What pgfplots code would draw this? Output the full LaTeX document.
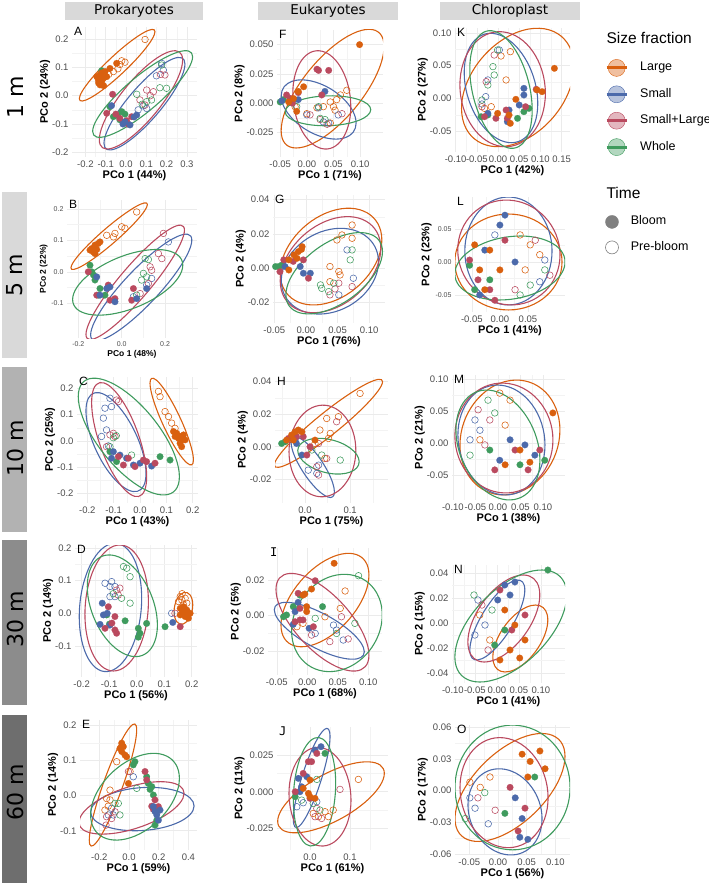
\documentclass[border=0pt]{standalone}
\usepackage{fontspec}
\setmainfont{Liberation Sans}
\newfontfamily\djv{DejaVu Sans}
\newfontfamily\djvmono{DejaVu Sans Mono}
\usepackage{pgfplots}
\pgfplotsset{compat=1.18}
\usetikzlibrary{calc}

\definecolor{cL}{HTML}{D9600F}
\definecolor{cS}{HTML}{4C6AAB}
\definecolor{cSL}{HTML}{BA4A5F}
\definecolor{cW}{HTML}{3F9B5E}
\definecolor{gridc}{HTML}{EBEBEB}
\definecolor{tickc}{HTML}{4D4D4D}
\definecolor{stripc}{HTML}{D9D9D9}

\newcommand{\tickfont}{\fontsize{9.5}{11}\selectfont}
\newcommand{\labfont}{\fontsize{11}{13}\selectfont\bfseries}

% normal-data ellipse: colour, centre x, centre y, half width, half height,
% rise of the rightmost point above the centre (all in data units)
\newcommand{\ellip}[6]{%
  \draw[#1, line width=1.1pt] let \p1=(axis cs:#2,#3), \p2=(axis direction cs:#4,#6),
    \n1={sqrt((100*#5)^2-(100*#6)^2)/100}, \p3=(axis direction cs:0,\n1) in
    (canvas cs:x=\x1+\x2, y=\y1+\y2)
    .. controls (canvas cs:x=\x1+\x2+0.5523*\x3, y=\y1+\y2+0.5523*\y3)
       and (canvas cs:x=\x1+\x3+0.5523*\x2, y=\y1+\y3+0.5523*\y2) .. (canvas cs:x=\x1+\x3, y=\y1+\y3)
    .. controls (canvas cs:x=\x1+\x3-0.5523*\x2, y=\y1+\y3-0.5523*\y2)
       and (canvas cs:x=\x1-\x2+0.5523*\x3, y=\y1-\y2+0.5523*\y3) .. (canvas cs:x=\x1-\x2, y=\y1-\y2)
    .. controls (canvas cs:x=\x1-\x2-0.5523*\x3, y=\y1-\y2-0.5523*\y3)
       and (canvas cs:x=\x1-\x3-0.5523*\x2, y=\y1-\y3-0.5523*\y2) .. (canvas cs:x=\x1-\x3, y=\y1-\y3)
    .. controls (canvas cs:x=\x1-\x3+0.5523*\x2, y=\y1-\y3+0.5523*\y2)
       and (canvas cs:x=\x1+\x2-0.5523*\x3, y=\y1+\y2-0.5523*\y3) .. cycle;}

\pgfplotsset{
  pan/.style={anchor=north west, scale only axis, axis line style={draw=none},
    scaled ticks=false, major tick length=0pt, minor tick length=0pt,
    grid=both, minor tick num=1,
    major grid style={draw=gridc, line width=0.55pt},
    minor grid style={draw=gridc!60!white, line width=0.3pt},
    ticklabel style={font=\tickfont, text=tickc}, label style={font=\labfont},
    xlabel shift=-4pt, ylabel shift=-5pt},
  tag/.style={after end axis/.append code={\node[anchor=north west, inner sep=0pt,
    font=\fontsize{12}{13}\selectfont] at ([xshift=2pt]rel axis cs:0,1) {#1};}},
  fb/.style={only marks, mark=*, mark size=3.3pt, mark options={draw=#1, fill=#1, line width=0.2pt}},
  ob/.style={only marks, mark=o, mark size=3.3pt, mark options={draw=#1, line width=0.55pt}},
}

\begin{document}
\begin{tikzpicture}

% ---------------- column strips and depth labels
\fill[stripc] (65pt,-2pt) rectangle (203pt,-20pt);
\node[font=\djv\fontsize{13.5}{15}\selectfont] at (134pt,-11pt) {Prokaryotes};
\fill[stripc] (258pt,-2pt) rectangle (398pt,-20pt);
\node[font=\djv\fontsize{13.5}{15}\selectfont] at (328pt,-11pt) {Eukaryotes};
\fill[stripc] (440pt,-2pt) rectangle (580pt,-20pt);
\node[font=\djv\fontsize{13.5}{15}\selectfont] at (510pt,-11pt) {Chloroplast};

\fill[black!15] (2pt,-192pt) rectangle (27pt,-358pt);
\fill[black!30] (2pt,-367pt) rectangle (27pt,-532pt);
\fill[black!45] (2pt,-540pt) rectangle (27pt,-705pt);
\fill[black!57] (2pt,-715pt) rectangle (27pt,-883pt);
\foreach \lab/\yy in {1 m/97, 5 m/275, 10 m/448, 30 m/619, 60 m/792}
  \node[rotate=90, font=\djv\fontsize{22}{24}\selectfont] at (15pt,-\yy pt) {\lab};

% ================= A
\begin{axis}[pan, tag=A, at={(72pt,-27pt)}, width=125pt, height=130pt,
  xmin=-0.266, xmax=0.350, ymin=-0.216, ymax=0.242,
  xtick={-0.2,-0.1,0,0.1,0.2,0.3}, xticklabels={-0.2,-0.1,0.0,0.1,0.2,0.3},
  ytick={-0.2,-0.1,0,0.1,0.2}, yticklabels={-0.2,-0.1,0.0,0.1,0.2},
  xlabel={PCo 1 (44\%)}, ylabel={PCo 2 (24\%)}]
\addplot[ob=cL] coordinates {(0.094,0.198) (-0.021,0.123) (-0.005,0.118) (-0.062,0.085) (-0.085,0.075) (-0.04,0.095) (-0.03,0.11)};
\addplot[ob=cS] coordinates {(0.184,0.09) (0.176,0.114) (0.085,-0.036) (0.102,-0.045) (0.15,0.07) (0.06,-0.05)};
\addplot[ob=cSL] coordinates {(0.192,0.073) (0.102,0.02) (0.135,0.014) (0.069,-0.015) (0.094,-0.033) (0.17,0.075) (0.12,0.0)};
\addplot[ob=cW] coordinates {(0.053,0.005) (0.102,-0.021) (0.167,0.028) (0.2,0.026) (0.126,-0.015) (0.176,0.108) (0.08,-0.03)};
\addplot[fb=cW] coordinates {(-0.12,0.088) (-0.079,-0.039) (-0.062,-0.074) (-0.021,-0.056) (-0.005,-0.065) (-0.04,-0.07) (-0.03,-0.085)};
\addplot[fb=cSL] coordinates {(-0.066,0.005) (-0.095,-0.062) (-0.013,-0.097) (0.003,-0.088) (0.028,-0.074) (-0.03,-0.08) (-0.05,-0.065) (0.01,-0.1)};
\addplot[fb=cS] coordinates {(-0.071,-0.035) (0.053,-0.068) (0.02,-0.103) (-0.005,-0.092) (0.04,-0.075) (-0.015,-0.1)};
\addplot[fb=cL] coordinates {(-0.128,0.073) (-0.112,0.061) (-0.136,0.055) (-0.12,0.049) (-0.103,0.085) (-0.095,0.067) (-0.128,0.038) (-0.144,0.067) (-0.079,0.096) (-0.046,0.114) (-0.12,0.08) (-0.135,0.045) (-0.11,0.035)};
\ellip{cL}{-0.0435}{0.1074}{0.1864}{0.1262}{0.118}
\ellip{cS}{0.0911}{-0.0282}{0.1995}{0.1631}{0.1397}
\ellip{cSL}{0.0739}{-0.0147}{0.2053}{0.1731}{0.1403}
\ellip{cW}{0.0821}{0.0059}{0.2463}{0.1526}{0.1315}
\end{axis}

% ================= B
\begin{axis}[pan, tag=B, at={(67pt,-200pt)}, width=130pt, height=138pt,
  ticklabel style={font=\fontsize{7}{8}\selectfont}, label style={font=\fontsize{8.5}{10}\selectfont\bfseries},
  xlabel shift=-3pt, ylabel shift=-3pt,
  xmin=-0.252, xmax=0.347, ymin=-0.210, ymax=0.228,
  xtick={-0.2,0,0.2}, xticklabels={-0.2,0.0,0.2},
  ytick={-0.1,0,0.1,0.2}, yticklabels={-0.1,0.0,0.1,0.2},
  xlabel={PCo 1 (48\%)}, ylabel={PCo 2 (22\%)}]
\addplot[ob=cL] coordinates {(-0.069,0.116) (-0.038,0.111) (0,0.143) (0.015,0.138) (0.069,0.19) (-0.031,0.122)};
\addplot[ob=cS] coordinates {(0.215,0.095) (0.138,-0.021) (0.115,-0.042) (0.054,-0.079)};
\addplot[ob=cSL] coordinates {(0.192,0.122) (0.169,0.058) (0.185,0.042) (0.131,0.016) (0.138,0.005) (0.085,-0.069) (0.123,-0.037)};
\addplot[ob=cW] coordinates {(0.108,0.042) (0.123,0.039) (0.1,-0.005) (0.115,-0.016) (0.069,-0.074) (0.092,-0.026)};
\addplot[fb=cW] coordinates {(-0.146,0.021) (-0.138,0.0) (-0.123,-0.026) (-0.1,-0.053) (-0.108,-0.074) (-0.077,-0.074) (-0.13,-0.01)};
\addplot[fb=cSL] coordinates {(-0.154,0.0) (-0.115,-0.074) (-0.062,-0.042) (-0.054,-0.09) (-0.031,-0.085) (0.046,-0.09) (0.054,-0.053)};
\addplot[fb=cS] coordinates {(-0.115,-0.016) (-0.1,-0.074) (-0.069,-0.053) (-0.054,-0.048) (-0.031,-0.095) (0.069,-0.085) (0.115,-0.053)};
\addplot[fb=cL] coordinates {(-0.138,0.074) (-0.123,0.085) (-0.108,0.09) (-0.131,0.063) (-0.146,0.069) (-0.115,0.071) (-0.1,0.095) (-0.123,0.058)};
\ellip{cL}{-0.0577}{0.1132}{0.1762}{0.1058}{0.1005}
\ellip{cS}{0.09}{-0.0497}{0.2331}{0.1693}{0.1503}
\ellip{cSL}{0.0623}{-0.0333}{0.2269}{0.1815}{0.1656}
\ellip{cW}{0.0277}{-0.0333}{0.2538}{0.1042}{0.0545}
\end{axis}

% ================= C
\begin{axis}[pan, tag=C, at={(77pt,-377pt)}, width=121pt, height=126pt,
  xmin=-0.239, xmax=0.220, ymin=-0.237, ymax=0.244,
  xtick={-0.2,-0.1,0,0.1,0.2}, xticklabels={-0.2,-0.1,0.0,0.1,0.2},
  ytick={-0.2,-0.1,0,0.1,0.2}, yticklabels={-0.2,-0.1,0.0,0.1,0.2},
  xlabel={PCo 1 (43\%)}, ylabel={PCo 2 (25\%)}]
\addplot[ob=cL] coordinates {(0.07,0.189) (0.076,0.169) (0.108,0.093) (0.12,0.068) (0.095,0.112) (0.133,0.048)};
\addplot[ob=cS] coordinates {(-0.114,0.163) (-0.133,0.125) (-0.139,0.087) (-0.127,0.042) (-0.146,0.017) (-0.12,-0.019) (-0.108,0.131)};
\addplot[ob=cSL] coordinates {(-0.082,0.15) (-0.089,0.156) (-0.114,0.023) (-0.101,0.029) (-0.095,0.017) (-0.127,-0.022)};
\addplot[ob=cW] coordinates {(-0.101,0.012) (-0.114,-0.022) (-0.032,-0.054) (-0.09,0.02)};
\addplot[fb=cW] coordinates {(-0.114,-0.041) (-0.089,-0.079) (0.076,-0.06) (0.114,-0.073)};
\addplot[fb=cS] coordinates {(-0.101,-0.041) (-0.076,-0.054) (-0.051,-0.066) (-0.025,-0.092) (0,-0.085) (0.044,-0.096) (-0.108,-0.066)};
\addplot[fb=cSL] coordinates {(-0.082,-0.06) (-0.063,-0.092) (-0.044,-0.066) (-0.019,-0.098) (0.013,-0.073) (0.025,-0.079) (0.057,-0.085)};
\addplot[fb=cL] coordinates {(0.127,0.036) (0.139,0.029) (0.152,0.017) (0.158,0.004) (0.146,0.01) (0.165,0.023) (0.133,0.017) (0.152,-0.009) (0.171,0.004) (0.158,-0.022)};
\ellip{cL}{0.1203}{0.0739}{0.0823}{0.1656}{-0.1465}
\ellip{cS}{-0.0911}{-0.0045}{0.1139}{0.1892}{-0.1191}
\ellip{cSL}{-0.0791}{0.0051}{0.1044}{0.2178}{-0.1414}
\ellip{cW}{-0.0424}{0.0166}{0.1918}{0.2229}{-0.1529}
\end{axis}

% ================= D
\begin{axis}[pan, tag=D, at={(75pt,-545pt)}, width=122pt, height=132pt,
  xmin=-0.224, xmax=0.219, ymin=-0.195, ymax=0.209,
  xtick={-0.2,-0.1,0,0.1,0.2}, xticklabels={-0.2,-0.1,0.0,0.1,0.2},
  ytick={-0.1,0,0.1,0.2}, yticklabels={-0.1,0.0,0.1,0.2},
  xlabel={PCo 1 (56\%)}, ylabel={PCo 2 (14\%)}]
\addplot[ob=cL] coordinates {(0.152,0.036) (0.164,0.041) (0.176,0.046) (0.158,0.051) (0.182,0.031) (0.17,0.026) (0.165,0.06)};
\addplot[ob=cS] coordinates {(-0.115,0.092) (-0.097,0.082) (-0.079,0.082) (-0.079,0.051) (-0.097,0.051) (0.127,0) (-0.091,0.097)};
\addplot[ob=cSL] coordinates {(-0.073,0.071) (-0.061,0.077) (-0.067,0.056) (0.139,0)};
\addplot[ob=cW] coordinates {(-0.048,0.143) (-0.036,0.138) (-0.024,0.112) (-0.024,0.031) (-0.055,0.046) (-0.085,0.06)};
\addplot[fb=cW] coordinates {(-0.109,-0.005) (-0.099,-0.033) (-0.042,-0.023) (0.036,-0.031) (0.006,-0.046) (0.012,-0.061) (0.006,-0.073) (0.103,-0.041)};
\addplot[fb=cS] coordinates {(-0.125,0.031) (-0.107,0.0) (-0.121,-0.005) (-0.133,-0.034) (-0.097,-0.036) (0.131,-0.028)};
\addplot[fb=cSL] coordinates {(-0.103,0.02) (-0.079,-0.01) (-0.079,-0.051) (-0.073,-0.061) (-0.115,-0.046) (0.158,-0.041) (-0.09,-0.03)};
\addplot[fb=cL] coordinates {(0.158,0.015) (0.17,0.005) (0.182,-0.005) (0.188,-0.015) (0.176,-0.01) (0.164,0) (0.194,0) (0.182,0.01) (0.158,-0.005) (0.17,0.02)};
\ellip{cL}{0.1697}{0.0153}{0.0339}{0.049}{0.0102}
\ellip{cS}{-0.0952}{0.0179}{0.1133}{0.1964}{0.0281}
\ellip{cSL}{-0.0727}{0.0163}{0.1152}{0.1929}{0.0194}
\ellip{cW}{-0.0521}{0.023}{0.1273}{0.1556}{-0.0587}
\end{axis}

% ================= E
\begin{axis}[pan, tag=E, at={(80pt,-720pt)}, width=117pt, height=130pt,
  xmin=-0.330, xmax=0.458, ymin=-0.155, ymax=0.216,
  xtick={-0.2,0,0.2,0.4}, xticklabels={-0.2,0.0,0.2,0.4},
  ytick={-0.1,0,0.1,0.2}, yticklabels={-0.1,0.0,0.1,0.2},
  xlabel={PCo 1 (59\%)}, ylabel={PCo 2 (14\%)}]
\addplot[ob=cL] coordinates {(-0.083,0.097) (0.007,0.069) (-0.128,0.016) (-0.151,-0.008) (-0.128,-0.012) (-0.162,-0.041) (-0.14,-0.03)};
\addplot[ob=cS] coordinates {(0.029,0.054) (-0.117,-0.036) (-0.106,-0.055) (-0.139,-0.055)};
\addplot[ob=cSL] coordinates {(-0.004,0.069) (-0.151,-0.06) (-0.155,-0.084) (-0.117,-0.065) (-0.094,-0.046)};
\addplot[ob=cW] coordinates {(0.052,0.021) (-0.094,-0.022) (-0.072,-0.022) (-0.061,-0.055)};
\addplot[fb=cW] coordinates {(0.04,0.097) (0.029,0.088) (0.119,0.054) (0.13,0.035) (0.153,0.026) (0.142,0.018) (0.164,0.002) (0.187,-0.07) (0.175,-0.084)};
\addplot[fb=cSL] coordinates {(0.108,0.069) (0.119,0.045) (0.175,-0.012) (0.153,-0.03) (0.198,-0.031) (0.187,-0.046) (0.164,-0.039)};
\addplot[fb=cS] coordinates {(0.164,-0.031) (0.209,-0.041) (0.187,-0.055) (0.198,-0.07) (0.175,-0.045)};
\addplot[fb=cL] coordinates {(-0.049,0.15) (-0.038,0.14) (-0.061,0.135) (-0.049,0.126) (-0.027,0.116) (-0.016,0.111) (-0.004,0.035)};
\ellip{cL}{-0.1079}{0.0305}{0.1596}{0.1743}{0.1571}
\ellip{cS}{0.0899}{-0.0381}{0.3483}{0.0619}{0.0086}
\ellip{cSL}{0.0169}{-0.0348}{0.3539}{0.0748}{0.0414}
\ellip{cW}{0.0404}{-0.0029}{0.2989}{0.1238}{0.0524}
\end{axis}

% ================= F
\begin{axis}[pan, tag=F, at={(277pt,-30pt)}, width=106pt, height=127pt,
  xmin=-0.056, xmax=0.143, ymin=-0.046, ymax=0.0625,
  xtick={-0.05,0,0.05,0.1}, xticklabels={-0.05,0.00,0.05,0.10},
  ytick={-0.025,0,0.025,0.05}, yticklabels={-0.025,0.000,0.025,0.050},
  xlabel={PCo 1 (71\%)}, ylabel={PCo 2 (8\%)}]
\addplot[ob=cL] coordinates {(0.075,0.011) (0.063,0.007) (0.056,0.003) (0.044,0.001) (0.05,-0.003) (0.019,-0.004) (0.031,-0.003) (-0.022,-0.003) (0,-0.009) (0.044,-0.017) (0.053,-0.006)};
\addplot[ob=cS] coordinates {(0,-0.01) (0.059,-0.01) (0.022,-0.004) (0.031,-0.016) (0.041,-0.017)};
\addplot[ob=cSL] coordinates {(0.038,-0.018) (0.025,-0.014) (0.066,-0.009) (0.006,-0.01)};
\addplot[ob=cW] coordinates {(0.022,-0.003) (0.025,-0.013) (0.034,-0.014) (-0.019,-0.003)};
\addplot[fb=cW] coordinates {(-0.05,0.001) (-0.044,0.003)};
\addplot[fb=cS] coordinates {(0.034,0.01) (-0.047,0.002) (-0.016,0.003)};
\addplot[fb=cSL] coordinates {(0.019,0.029) (0.022,0.028) (0.041,0.028) (0.028,0.007) (-0.038,0.007) (-0.031,0.004) (-0.016,0.009) (-0.027,0.0)};
\addplot[fb=cL] coordinates {(0.099,0.050) (-0.006,0.014) (-0.016,0.01) (-0.019,-0.007) (-0.034,0.001) (-0.025,0.004)};
\ellip{cL}{0.0484}{0.0124}{0.0966}{0.0507}{0.0359}
\ellip{cS}{0.0222}{-0.0054}{0.0703}{0.0253}{-0.0116}
\ellip{cSL}{0.0281}{0.0028}{0.0544}{0.042}{-0.0057}
\ellip{cW}{0.0397}{-0.0065}{0.0803}{0.0128}{0.0009}
\end{axis}

% ================= G
\begin{axis}[pan, tag=G, at={(273pt,-195pt)}, width=112pt, height=128pt,
  xmin=-0.052, xmax=0.125, ymin=-0.0319, ymax=0.0427,
  xtick={-0.05,0,0.05,0.1}, xticklabels={-0.05,0.00,0.05,0.10},
  ytick={-0.02,0,0.02,0.04}, yticklabels={-0.02,0.00,0.02,0.04},
  xlabel={PCo 1 (76\%)}, ylabel={PCo 2 (4\%)}]
\addplot[ob=cL] coordinates {(0.073,0.0252) (0.057,0.0194) (0.049,0.0165) (0.038,0.001) (0.052,-0.0019) (0.054,-0.0039) (0.038,-0.0078) (0.073,0.0175)};
\addplot[ob=cS] coordinates {(0.065,0.0107) (0.075,-0.0058) (0.052,-0.0155)};
\addplot[ob=cSL] coordinates {(0.073,-0.0107) (0.052,-0.0087) (0.038,-0.0155) (0.046,-0.012)};
\addplot[ob=cW] coordinates {(0.073,0.0107) (0.07,0.0049) (0.023,-0.0097) (0.025,-0.0117) (0.044,-0.0087) (0.036,-0.0136)};
\addplot[fb=cW] coordinates {(-0.048,0.001) (-0.043,0.001) (-0.038,0.0019)};
\addplot[fb=cS] coordinates {(-0.009,0.001) (-0.004,-0.0029) (0.007,-0.0029) (-0.033,0.001)};
\addplot[fb=cSL] coordinates {(-0.035,0.0049) (-0.004,0.0049) (-0.041,-0.002) (0.004,-0.0058) (-0.02,0.004)};
\addplot[fb=cL] coordinates {(-0.027,-0.001) (-0.019,0.0078) (-0.012,0.0097) (-0.007,0.011) (-0.006,0.0126) (-0.014,0.0058) (-0.027,0.0049)};
\ellip{cL}{0.0397}{0.0068}{0.0803}{0.0282}{0.0097}
\ellip{cS}{0.0379}{-0.0017}{0.0768}{0.025}{0.0055}
\ellip{cSL}{0.0389}{0.0021}{0.0795}{0.028}{0.0095}
\ellip{cW}{0.0447}{-0.0029}{0.0763}{0.0237}{0.0126}
\end{axis}

% ================= H
\begin{axis}[pan, tag=H, at={(275pt,-377pt)}, width=113pt, height=126pt,
  xmin=-0.0667, xmax=0.184, ymin=-0.0346, ymax=0.0429,
  xtick={0,0.1}, xticklabels={0.0,0.1}, minor xtick={-0.05,0.05,0.15},
  ytick={-0.02,0,0.02,0.04}, yticklabels={-0.02,0.00,0.02,0.04},
  xlabel={PCo 1 (75\%)}, ylabel={PCo 2 (4\%)}]
\addplot[ob=cL] coordinates {(0.122,0.0328) (0.074,0.0185) (0.048,0.0174) (0.033,0.0103) (0.056,0.0082) (0.022,0.002) (0.052,0.0051) (0.044,-0.0072)};
\addplot[ob=cS] coordinates {(0.007,-0.0144) (0.026,-0.0164) (0.03,-0.0113)};
\addplot[ob=cSL] coordinates {(0.07,0.0154) (0.03,0.002) (0.048,-0.0072) (0.026,-0.0123) (0.03,-0.0174)};
\addplot[ob=cW] coordinates {(0.037,-0.0051) (0.078,-0.0082) (0.015,-0.002)};
\addplot[fb=cW] coordinates {(-0.052,0.002) (-0.044,0.0031)};
\addplot[fb=cS] coordinates {(-0.019,0.002) (-0.007,-0.0051) (-0.022,0.0041)};
\addplot[fb=cSL] coordinates {(-0.037,0.0051) (-0.019,0.0062) (-0.004,0.0062) (0.004,-0.0051) (0.011,0)};
\addplot[fb=cL] coordinates {(-0.03,0.0072) (-0.022,0.0092) (-0.015,0.0103) (-0.007,0.0092) (-0.026,0.0041) (0.022,0.0041) (-0.041,0.0041)};
\ellip{cL}{0.0519}{0.0144}{0.12}{0.0271}{0.0256}
\ellip{cS}{0.017}{-0.0125}{0.0481}{0.0187}{-0.0152}
\ellip{cSL}{0.0385}{-0.0026}{0.0741}{0.0282}{0.0005}
\ellip{cW}{0.0519}{-0.0058}{0.0681}{0.011}{-0.0034}
\end{axis}

% ================= I
\begin{axis}[pan, tag={\djvmono I}, at={(268pt,-548pt)}, width=114pt, height=127pt,
  xmin=-0.0644, xmax=0.1225, ymin=-0.0334, ymax=0.0381,
  xtick={-0.05,0,0.05,0.1}, xticklabels={-0.05,0.00,0.05,0.10},
  ytick={-0.02,0,0.02}, yticklabels={-0.02,0.00,0.02},
  xlabel={PCo 1 (68\%)}, ylabel={PCo 2 (5\%)}]
\addplot[ob=cL] coordinates {(0.062,0.0139) (0.054,0.0041) (0.029,-0.0006) (-0.007,-0.0043) (-0.017,-0.0062)};
\addplot[ob=cS] coordinates {(0.043,-0.0053) (0.013,-0.01) (0.059,-0.0137) (0.048,-0.0081)};
\addplot[ob=cSL] coordinates {(0.056,-0.0006) (0.007,-0.0109) (0.037,-0.0146) (0.067,-0.0131)};
\addplot[ob=cW] coordinates {(0.084,0.0225) (0.078,-0.0043) (0.013,-0.0015) (0.048,-0.01)};
\addplot[fb=cW] coordinates {(-0.012,0.0116) (0.025,0.0051) (-0.023,0.0051) (-0.039,-0.0006) (-0.034,0.0004)};
\addplot[fb=cS] coordinates {(-0.015,0.0075) (-0.02,0.0023) (-0.023,-0.0049) (0.003,-0.0071)};
\addplot[fb=cSL] coordinates {(0.013,0.0197) (-0.012,0.0041) (-0.012,-0.0024) (-0.007,-0.0024) (-0.02,-0.0034) (0.01,-0.0062) (-0.015,0.0126)};
\addplot[fb=cL] coordinates {(0.044,0.0295) (0.007,0.015) (-0.004,0.0122) (-0.007,0.0116) (-0.001,0.0051) (-0.001,0.0023)};
\ellip{cL}{0.029}{0.0088}{0.0721}{0.0263}{0.0141}
\ellip{cS}{0.0197}{-0.0085}{0.0738}{0.016}{-0.0118}
\ellip{cSL}{0.0249}{-0.0037}{0.0762}{0.0275}{-0.0185}
\ellip{cW}{0.0486}{-0.0041}{0.0743}{0.0274}{0.0045}
\end{axis}

% ================= J
\begin{axis}[pan, tag={\djvmono J}, at={(277pt,-727pt)}, width=111pt, height=123pt,
  xmin=-0.0825, xmax=0.195, ymin=-0.0397, ymax=0.0441,
  xtick={0,0.1}, xticklabels={0.0,0.1}, minor xtick={-0.05,0.05,0.15},
  ytick={-0.025,0,0.025}, yticklabels={-0.025,0.000,0.025},
  xlabel={PCo 1 (61\%)}, ylabel={PCo 2 (11\%)}]
\addplot[ob=cL] coordinates {(0.121,0.0084) (0.0375,-0.0136) (0.058,-0.0125) (0.046,-0.017) (0.008,-0.0148) (0.021,-0.017)};
\addplot[ob=cS] coordinates {(-0.033,-0.0102) (-0.017,-0.0075) (0.017,-0.0068)};
\addplot[ob=cSL] coordinates {(0.075,0.0016) (0.0125,-0.017) (0.029,-0.0182) (0.017,-0.0114)};
\addplot[ob=cW] coordinates {(0.017,0.0084) (0.008,-0.008) (0.025,-0.0125) (-0.021,-0.0057)};
\addplot[fb=cW] coordinates {(0.0375,0.0261) (-0.037,-0.0034)};
\addplot[fb=cS] coordinates {(0.0275,0.0307) (0.0125,0.0284) (-0.008,0.0102) (-0.029,0.0091) (-0.021,0.0034) (-0.025,0)};
\addplot[fb=cSL] coordinates {(0.017,0.0261) (-0.004,0.0205) (0.004,0.0205) (-0.017,0.0125) (0,-0.0045) (-0.037,0)};
\addplot[fb=cL] coordinates {(0,0.008) (-0.017,0.0023) (-0.004,-0.0011) (0,-0.0034) (0.0125,-0.0045)};
\ellip{cL}{0.0525}{-0.0038}{0.1333}{0.0242}{0.0163}
\ellip{cS}{0.0042}{0.0094}{0.0458}{0.0338}{0.0281}
\ellip{cSL}{0.025}{-0.0034}{0.0775}{0.0336}{-0.0023}
\ellip{cW}{0.0113}{0}{0.0529}{0.037}{0.0057}
\end{axis}

% ================= K
\begin{axis}[pan, tag=K, at={(455pt,-28pt)}, width=115pt, height=124pt,
  xmin=-0.1015, xmax=0.1698, ymin=-0.0821, ymax=0.1076,
  xtick={-0.1,-0.05,0,0.05,0.1,0.15}, xticklabels={-0.10,-0.05,0.00,0.05,0.10,0.15},
  ytick={-0.05,0,0.05,0.1}, yticklabels={-0.05,0.00,0.05,0.10},
  xlabel={PCo 1 (42\%)}, ylabel={PCo 2 (27\%)}]
\addplot[ob=cL] coordinates {(0.029,0.0714) (0.019,0.0281) (0.007,0.0648) (-0.016,-0.0128) (-0.032,-0.0153)};
\addplot[ob=cS] coordinates {(0.003,0.074) (-0.024,0.0281) (-0.029,0.0026) (-0.038,-0.0087)};
\addplot[ob=cSL] coordinates {(-0.009,0.0663) (-0.028,0.0255) (-0.038,-0.0128)};
\addplot[ob=cW] coordinates {(-0.001,0.074) (-0.012,0.0485) (-0.009,0.0357) (-0.024,0.0204) (-0.038,-0.0026)};
\addplot[fb=cW] coordinates {(0.073,-0.0153) (0.061,-0.0204) (0.046,-0.0306) (-0.024,-0.0255) (-0.04,-0.0281)};
\addplot[fb=cS] coordinates {(0.061,0.0153) (0.061,0.0051) (0.05,-0.0102) (0.026,-0.0179) (-0.024,-0.023) (0.022,-0.0357)};
\addplot[fb=cSL] coordinates {(0.09,0.0138) (0.065,-0.0128) (0.019,-0.0179) (-0.005,-0.0306) (0.022,-0.0306) (-0.032,-0.0281)};
\addplot[fb=cL] coordinates {(0.133,0.0459) (0.104,0.0102) (0.042,-0.0015) (0.026,-0.0255) (-0.001,-0.023) (0.029,-0.0383) (0.092,0.0128)};
\ellip{cL}{0.0465}{0.0166}{0.1326}{0.0906}{0.0319}
\ellip{cS}{0.007}{0.0158}{0.0868}{0.0837}{-0.0235}
\ellip{cSL}{0.0109}{0.014}{0.1008}{0.088}{-0.0064}
\ellip{cW}{0.007}{0.0135}{0.0736}{0.09}{-0.0314}
\end{axis}

% ================= L
\begin{axis}[pan, tag=L, at={(455pt,-197pt)}, width=110pt, height=115pt,
  yticklabel style={font=\fontsize{7}{8}\selectfont}, ylabel shift=-3pt,
  xmin=-0.080, xmax=0.116, ymin=-0.0758, ymax=0.0985,
  xtick={-0.05,0,0.05}, xticklabels={-0.05,0.00,0.05},
  ytick={-0.05,0,0.05}, yticklabels={-0.05,0.00,0.05},
  xlabel={PCo 1 (41\%)}, ylabel={PCo 2 (23\%)}]
\addplot[ob=cL] coordinates {(0.036,0.041) (0.054,0.026) (0.045,-0.012) (0.071,0.011)};
\addplot[ob=cS] coordinates {(-0.009,0.041) (0.071,-0.03) (0.08,0.003)};
\addplot[ob=cSL] coordinates {(0.063,0.033) (0.089,-0.02) (0.027,-0.042)};
\addplot[ob=cW] coordinates {(0.036,-0.05) (0.054,-0.035) (0.08,-0.012)};
\addplot[fb=cW] coordinates {(-0.054,-0.005) (-0.045,-0.042) (-0.018,-0.027)};
\addplot[fb=cS] coordinates {(0.009,0.071) (0,0.056) (-0.027,0.018) (0.027,0) (-0.036,-0.05)};
\addplot[fb=cSL] coordinates {(-0.054,0.003) (-0.039,-0.027) (-0.018,-0.042) (-0.009,-0.058) (0.009,0.033)};
\addplot[fb=cL] coordinates {(-0.045,0.026) (-0.036,-0.012) (0,-0.012) (-0.027,-0.042) (-0.018,0.018)};
\ellip{cL}{0.0152}{0}{0.0955}{0.0727}{0}
\ellip{cS}{0.0152}{0.0167}{0.0777}{0.0818}{0}
\ellip{cSL}{0.016}{0.0144}{0.0911}{0.0795}{-0.0038}
\ellip{cW}{0.0179}{-0.0091}{0.0982}{0.0485}{0.0091}
\end{axis}

% ================= M
\begin{axis}[pan, tag=M, at={(452pt,-375pt)}, width=113pt, height=125pt,
  xmin=-0.102, xmax=0.149, ymin=-0.0891, ymax=0.1063,
  xtick={-0.1,-0.05,0,0.05,0.1}, xticklabels={-0.10,-0.05,0.00,0.05,0.10},
  ytick={-0.05,0,0.05,0.1}, yticklabels={-0.05,0.00,0.05,0.10},
  xlabel={PCo 1 (38\%)}, ylabel={PCo 2 (21\%)}]
\addplot[ob=cL] coordinates {(0.004,0.078) (0.027,0.067) (0.016,0.028) (-0.04,0.005)};
\addplot[ob=cS] coordinates {(-0.051,0.036) (-0.04,0.02) (-0.062,0.005)};
\addplot[ob=cSL] coordinates {(-0.044,0.052) (-0.018,0.036) (-0.029,-0.003)};
\addplot[ob=cW] coordinates {(-0.022,0.067) (-0.007,0.047) (-0.062,-0.019)};
\addplot[fb=cW] coordinates {(0.049,-0.034) (0.104,-0.027) (-0.018,-0.011)};
\addplot[fb=cS] coordinates {(0.027,0.005) (0.06,-0.003) (0.004,-0.027) (0.082,-0.019)};
\addplot[fb=cSL] coordinates {(0.038,-0.011) (0.093,-0.011) (-0.007,-0.042) (0.067,-0.042)};
\addplot[fb=cL] coordinates {(0.122,0.047) (0.049,-0.011) (0.071,-0.03) (0.016,-0.034)};
\ellip{cL}{0.0267}{0.0086}{0.111}{0.0898}{0.0117}
\ellip{cS}{0.0078}{0.0047}{0.0967}{0.0859}{-0.0078}
\ellip{cSL}{0.0133}{0.0078}{0.1089}{0.0859}{-0.003}
\ellip{cW}{0}{-0.0031}{0.0933}{0.0859}{-0.0234}
\end{axis}

% ================= N
\begin{axis}[pan, tag=N, at={(452pt,-565pt)}, width=113pt, height=118pt,
  xmin=-0.102, xmax=0.155, ymin=-0.048, ymax=0.0464,
  xtick={-0.1,-0.05,0,0.05,0.1}, xticklabels={-0.10,-0.05,0.00,0.05,0.10},
  ytick={-0.04,-0.02,0,0.02,0.04}, yticklabels={-0.04,-0.02,0.00,0.02,0.04},
  xlabel={PCo 1 (41\%)}, ylabel={PCo 2 (15\%)}]
\addplot[ob=cL] coordinates {(-0.039,0.0064) (-0.016,-0.0136)};
\addplot[ob=cS] coordinates {(-0.043,0.0184) (-0.027,-0.0016) (-0.05,-0.0096)};
\addplot[ob=cSL] coordinates {(-0.034,0.0144) (-0.02,-0.0216)};
\addplot[ob=cW] coordinates {(-0.052,0.0224) (-0.011,0.0104)};
\addplot[fb=cW] coordinates {(0.116,0.0424) (0.018,-0.0056) (-0.005,-0.0176)};
\addplot[fb=cS] coordinates {(0.018,0.0304) (0.041,0.0328) (0.002,0.0184) (0.03,0.0224)};
\addplot[fb=cSL] coordinates {(0.007,0.0264) (0.034,-0.0056) (0.064,0.0064)};
\addplot[fb=cL] coordinates {(0.018,0.0104) (0.041,-0.0016) (0.064,-0.0136) (0.03,-0.0216) (0.052,-0.028) (0.007,-0.0296)};
\ellip{cL}{0.0534}{-0.0124}{0.0625}{0.0268}{0.0148}
\ellip{cS}{0.0011}{0.0024}{0.0625}{0.032}{0.024}
\ellip{cSL}{0.0159}{0.0036}{0.0818}{0.0348}{0.0188}
\ellip{cW}{0.0318}{-0.0024}{0.1273}{0.0448}{0.0248}
\end{axis}

% ================= O
\begin{axis}[pan, tag=O, at={(455pt,-725pt)}, width=115pt, height=130pt,
  xmin=-0.0749, xmax=0.1254, ymin=-0.0610, ymax=0.062,
  xtick={-0.05,0,0.05,0.1}, xticklabels={-0.05,0.00,0.05,0.10},
  ytick={-0.06,-0.03,0,0.03,0.06}, yticklabels={-0.06,-0.03,0.00,0.03,0.06},
  xlabel={PCo 1 (56\%)}, ylabel={PCo 2 (17\%)}]
\addplot[ob=cL] coordinates {(-0.049,0.0079) (-0.031,0.003) (-0.014,0.0128)};
\addplot[ob=cS] coordinates {(-0.04,-0.0167) (-0.017,-0.0315) (-0.049,-0.0069)};
\addplot[ob=cSL] coordinates {(-0.035,-0.0069) (-0.005,-0.0187)};
\addplot[ob=cW] coordinates {(-0.023,-0.002) (-0.057,-0.0265)};
\addplot[fb=cW] coordinates {(0.064,0.0128) (0.012,-0.0216)};
\addplot[fb=cS] coordinates {(0.03,-0.0069) (0.042,-0.0265) (0.052,-0.0462) (0.038,-0.0442)};
\addplot[fb=cSL] coordinates {(0.021,0.003) (0.047,-0.0167) (0.035,-0.0383)};
\addplot[fb=cL] coordinates {(0.042,0.0344) (0.056,0.0275) (0.073,0.0374) (0.052,0.0128) (0.082,0.0206)};
\ellip{cL}{0.0209}{0.0029}{0.0958}{0.0511}{0.0295}
\ellip{cS}{0.0122}{-0.0202}{0.0645}{0.0408}{-0.0064}
\ellip{cSL}{0.0105}{-0.002}{0.0767}{0.0521}{-0.0049}
\ellip{cW}{0.0253}{0.0029}{0.1002}{0.059}{0}
\end{axis}

% ================= legends
\node[anchor=west, font=\fontsize{15.5}{17}\selectfont] at (603pt,-38pt) {Size fraction};
\begin{axis}[at={(605pt,-59pt)}, anchor=north west, hide axis, scale only axis,
  width=1pt, height=1pt, xmin=0, xmax=1, ymin=0, ymax=1,
  legend style={at={(0,1)}, anchor=north west, draw=none, fill=none, inner sep=0pt,
    row sep=9pt, column sep=12pt, font=\fontsize{12.5}{14}\selectfont,
    nodes={inner sep=0pt, text height=9pt, text depth=3pt}},
  legend cell align=left,
  legend image code/.code={\fill[#1, fill opacity=0.4] (10pt,0pt) circle[radius=8.5pt];
    \draw[#1, line width=3pt] (0pt,0pt) -- (20pt,0pt);}]
\addlegendimage{cL}\addlegendentry{Large}
\addlegendimage{cS}\addlegendentry{Small}
\addlegendimage{cSL}\addlegendentry{Small+Large}
\addlegendimage{cW}\addlegendentry{Whole}
\end{axis}

\node[anchor=west, font=\fontsize{15.5}{17}\selectfont] at (603pt,-193pt) {Time};
\begin{axis}[at={(605pt,-215pt)}, anchor=north west, hide axis, scale only axis,
  width=1pt, height=1pt, xmin=0, xmax=1, ymin=0, ymax=1,
  legend style={at={(0,1)}, anchor=north west, draw=none, fill=none, inner sep=0pt,
    row sep=12pt, column sep=12pt, font=\fontsize{12.5}{14}\selectfont,
    nodes={inner sep=0pt, text height=9pt, text depth=3pt}},
  legend cell align=left]
\addlegendimage{legend image code/.code={\fill[black!50] (10pt,0pt) circle[radius=6.5pt];}}
\addlegendentry{Bloom}
\addlegendimage{legend image code/.code={\draw[black!50, line width=0.6pt] (10pt,0pt) circle[radius=6.5pt];}}
\addlegendentry{Pre-bloom}
\end{axis}

\pgfresetboundingbox
\useasboundingbox (0pt,0pt) rectangle (709pt,-883pt);
\end{tikzpicture}
\end{document}
